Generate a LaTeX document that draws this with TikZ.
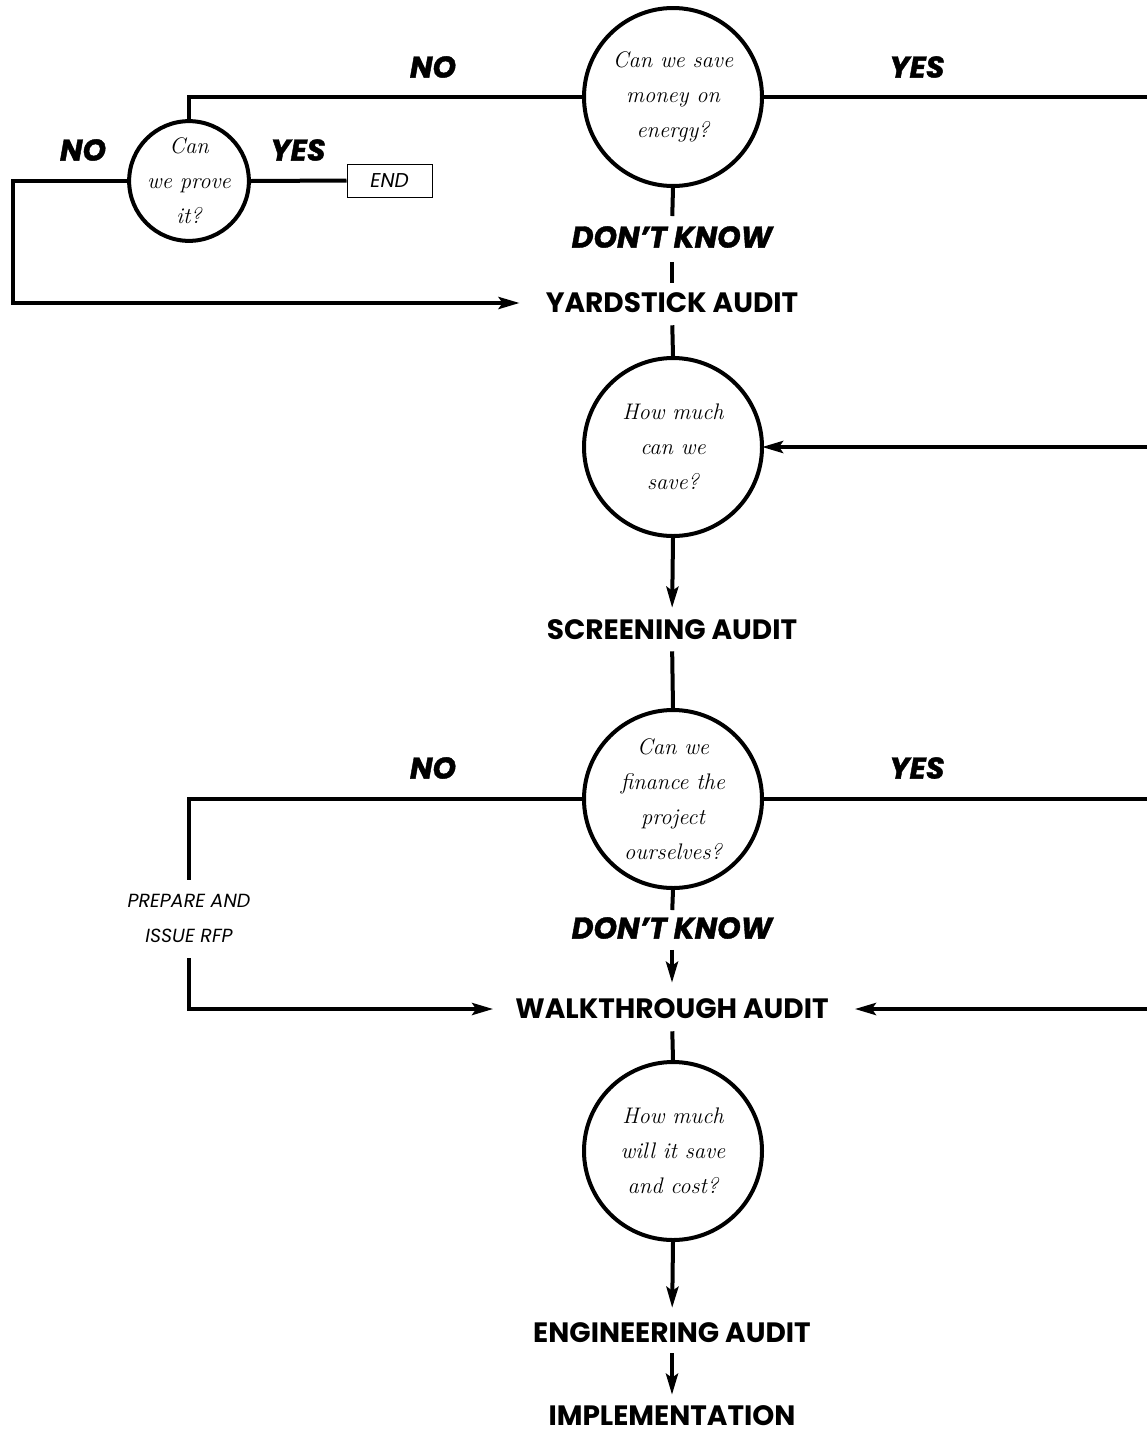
\documentclass[tikz,border=0pt]{standalone}
\usepackage{fontspec}
\newfontfamily\popfont{Poppins}
\newfontfamily\popheavy{Poppins}[FakeBold=1.3]
\usetikzlibrary{arrows.meta}
\tikzset{
  q/.style={circle, draw, line width=4pt, minimum size=178pt, inner sep=0pt, align=center,
            font=\fontsize{22.5}{35}\selectfont\itshape},
  qs/.style={q, minimum size=113pt},
  audit/.style={inner sep=0pt, font=\popfont\bfseries\fontsize{28}{30}\selectfont},
  ans/.style={inner sep=0pt, font=\popheavy\bfseries\itshape\fontsize{30}{32}\selectfont},
  note/.style={inner sep=0pt, align=center, font=\popfont\itshape\fontsize{19}{35}\selectfont},
  termbox/.style={draw, line width=1pt, minimum width=85pt, minimum height=33pt, inner sep=0pt,
            font=\popfont\itshape\fontsize{20}{22}\selectfont},
  conn/.style={line width=4pt},
  arr/.style={conn, -{Stealth[length=21pt,width=12pt,inset=4pt]}},
}
\begin{document}
\begin{tikzpicture}[x=1pt,y=-1pt]
\useasboundingbox (0,0) rectangle (1147,1433);
\node[q] (c1) at (673,97) {Can we save\\money on\\energy?};
\node[qs] (c0) at (189,181) {Can\\we prove\\it?};
\node[termbox] (endn) at (389.5,180.5) {END};
\node[ans] (no1) at (433,67) {NO};
\node[ans] (yes1) at (917,67) {YES};
\node[ans] (no0) at (83,150) {NO};
\node[ans] (yes0) at (298,150) {YES};
\node[ans] (dk1) at (672,237) {DON’T KNOW};
\node[audit] (yard) at (672,303) {YARDSTICK AUDIT};
\node[q] (c2) at (673,447) {How much\\can we\\save?};
\node[audit] (scr) at (672,630) {SCREENING AUDIT};
\node[q] (c3) at (673,799) {Can we\\finance the\\project\\ourselves?};
\node[ans] (no3) at (433,768) {NO};
\node[ans] (yes3) at (917,768) {YES};
\node[ans] (dk2) at (672,928) {DON’T KNOW};
\node[note] (rfp) at (189,918) {PREPARE AND\\ISSUE RFP};
\node[audit] (walk) at (672,1009) {WALKTHROUGH AUDIT};
\node[q] (c4) at (673,1151) {How much\\will it save\\and cost?};
\node[audit] (eng) at (672,1333) {ENGINEERING AUDIT};
\node[audit] (impl) at (672,1416) {IMPLEMENTATION};
\coordinate (e1) at (1147,97);
\coordinate (e2) at (1147,447);
\coordinate (e3) at (1147,799);
\coordinate (e4) at (1147,1009);
\coordinate (k1) at (13,181);
\draw[conn] (c1.west) -| (c0.north);
\draw[conn] (c1.east) -- (e1);
\draw[conn] (c0.east) -- (endn.west);
\draw[arr, shorten >=26pt] (c0.west) -- (k1) |- (yard.west);
\draw[conn, shorten >=10pt] (c1.south) -- (dk1.north);
\draw[conn, shorten <=14pt, shorten >=10pt] (dk1.south) -- (yard.north);
\draw[conn, shorten <=12pt] (yard.south) -- (c2.north);
\draw[arr, shorten >=-2pt] (e2) -- (c2.east);
\draw[arr, shorten >=12pt] (c2.south) -- (scr.north);
\draw[conn, shorten <=11pt] (scr.south) -- (c3.north);
\draw[conn] (c3.east) -- (e3);
\draw[conn, shorten >=14pt] (c3.west) -| (rfp.north);
\draw[arr, shorten <=16pt, shorten >=22pt] (rfp.south) |- (walk.west);
\draw[arr, shorten >=26pt] (e4) -- (walk.east);
\draw[conn, shorten >=7pt] (c3.south) -- (dk2.north);
\draw[arr, shorten <=11pt, shorten >=16pt] (dk2.south) -- (walk.north);
\draw[conn, shorten <=12pt] (walk.south) -- (c4.north);
\draw[arr, shorten >=15pt] (c4.south) -- (eng.north);
\draw[arr, shorten <=10pt, shorten >=11pt] (eng.south) -- (impl.north);
\end{tikzpicture}
\end{document}
